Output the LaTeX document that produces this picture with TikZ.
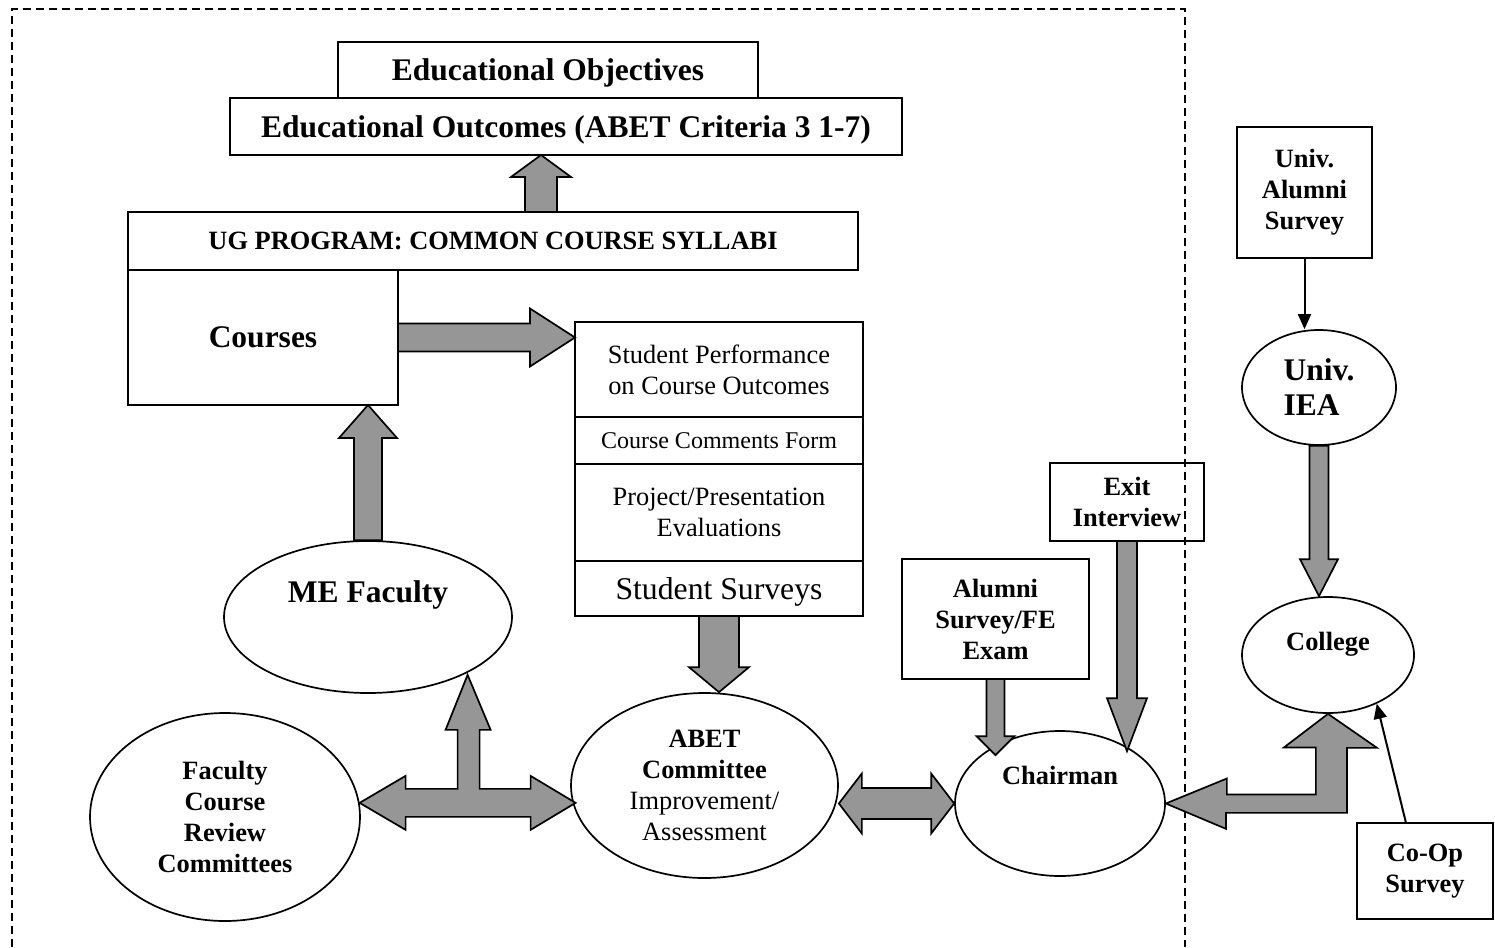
\documentclass[tikz,border=0pt]{standalone}
\usepackage{fontspec}
\setmainfont{Liberation Serif}
\usetikzlibrary{arrows.meta,positioning,calc,shapes.geometric}
\definecolor{ArrowGray}{RGB}{150,150,150}
\newcommand{\headsize}{\fontsize{31.5pt}{37pt}\selectfont}
\newcommand{\bodysize}{\fontsize{26.4pt}{31pt}\selectfont}
% block arrow: tail, tip, shaft half width, head half width, head length
\newcommand{\fatarrow}[5]{%
  \coordinate (fa-t) at (#1);
  \coordinate (fa-h) at (#2);
  \coordinate (fa-b) at ($(fa-h)!#5pt!(fa-t)$);
  \draw[fatarrow] ($(fa-t)!#3pt!90:(fa-h)$) -- ($(fa-b)!#3pt!90:(fa-h)$)
    -- ($(fa-b)!#4pt!90:(fa-h)$) -- (fa-h) -- ($(fa-b)!#4pt!-90:(fa-h)$)
    -- ($(fa-b)!#3pt!-90:(fa-h)$) -- ($(fa-t)!#3pt!-90:(fa-h)$) -- cycle;}
% block arrow with a head at both ends
\newcommand{\fatboth}[5]{%
  \coordinate (fa-a) at (#1);
  \coordinate (fa-z) at (#2);
  \coordinate (fa-p) at ($(fa-a)!#5pt!(fa-z)$);
  \coordinate (fa-q) at ($(fa-z)!#5pt!(fa-a)$);
  \draw[fatarrow] (fa-a) -- ($(fa-p)!#4pt!90:(fa-z)$) -- ($(fa-p)!#3pt!90:(fa-z)$)
    -- ($(fa-q)!#3pt!-90:(fa-a)$) -- ($(fa-q)!#4pt!-90:(fa-a)$) -- (fa-z)
    -- ($(fa-q)!#4pt!90:(fa-a)$) -- ($(fa-q)!#3pt!90:(fa-a)$)
    -- ($(fa-p)!#3pt!-90:(fa-z)$) -- ($(fa-p)!#4pt!-90:(fa-z)$) -- cycle;}
\tikzset{
  plainbox/.style={draw, line width=1.7pt, inner sep=0pt, outer sep=0pt,
    align=center, font=\bodysize\bfseries},
  listbox/.style={draw, line width=1.7pt, inner sep=0pt, outer sep=0pt,
    align=center, font=\bodysize, minimum width=288pt},
  oval/.style={ellipse, draw, line width=1.7pt, inner sep=0pt, align=center,
    font=\bodysize\bfseries},
  fatarrow/.style={draw, line width=1.7pt, fill=ArrowGray, line join=miter},
  thinarrow/.style={line width=2pt, -{Triangle[length=15pt,width=13pt]}},
  regionline/.style={line width=1.5pt, dash pattern=on 8pt off 5pt}
}
\begin{document}
\begin{tikzpicture}[x=1pt,y=-1pt]
  \useasboundingbox (0,0) rectangle (1495,947);
  % department boundary
  \draw[regionline] (12,947) -- (12,9) -- (1185,9) -- (1185,947);

  % objectives and program
  \node[plainbox, font=\headsize\bfseries, minimum width=672pt, minimum height=57pt, text depth=0pt] (outcomes) at (566,126.5) {Educational Outcomes (ABET Criteria 3 1-7)};
  \node[plainbox, font=\headsize\bfseries, minimum width=420pt, minimum height=56pt, text depth=0pt] (objectives) at (548,70) {Educational Objectives};
  \node[plainbox, minimum width=730pt, minimum height=58pt] (ug) at (493,241) {UG PROGRAM: COMMON COURSE SYLLABI};
  \node[plainbox, font=\headsize\bfseries, minimum width=270pt, minimum height=135pt, anchor=north west] (courses) at (ug.south west) {Courses};

  % assessment tools
  \node[listbox, minimum height=95pt] (perf) at (719,369.5) {Student Performance\\on Course Outcomes};
  \node[listbox, minimum height=47pt, font=\fontsize{24pt}{28pt}\selectfont, below=0pt of perf] (comments) {Course Comments Form};
  \node[listbox, minimum height=97pt, below=0pt of comments] (project) {Project/Presentation\\Evaluations};
  \node[listbox, minimum height=55pt, font=\fontsize{31.7pt}{37pt}\selectfont, text depth=0pt, below=0pt of project] (surveys) {Student Surveys};

  % faculty, committees, chairman
  \node[oval, font=\headsize\bfseries, minimum width=288pt, minimum height=152pt, text height=22pt, text depth=51pt] (mefac) at (368,617) {ME Faculty};
  \node[oval, minimum width=270pt, minimum height=208pt] (fcr) at (225,817) {Faculty\\Course\\Review\\Committees};
  \node[oval, font=\bodysize, minimum width=267pt, minimum height=185pt] (abet) at (704.5,785.5) {\textbf{ABET}\\\textbf{Committee}\\Improvement/\\Assessment};
  \node[oval, minimum width=210pt, minimum height=145pt, text height=18pt, text depth=56pt] (chair) at (1060,803.5) {Chairman};
  \node[plainbox, minimum width=187pt, minimum height=120pt] (alumni) at (995.5,619) {Alumni\\Survey/FE\\Exam};
  \node[plainbox, minimum width=154pt, minimum height=78pt] (exit) at (1127,502) {Exit\\Interview};

  % university side
  \node[plainbox, minimum width=135pt, minimum height=131pt] (uas) at (1304.5,192.5) {Univ.\\Alumni\\Survey};
  \node[oval, font=\fontsize{31.5pt}{35pt}\selectfont\bfseries, align=left, minimum width=154pt, minimum height=115pt] (iea) at (1319,387.5) {Univ.\\IEA};
  \node[oval, minimum width=172pt, minimum height=116pt, text height=18pt, text depth=28pt] (college) at (1328,655) {College};
  \node[plainbox, minimum width=136pt, minimum height=96pt] (coop) at (1425,871) {Co-Op\\Survey};

  % block arrows
  \fatarrow{$(ug.north)+(48,0)$}{$(outcomes.south)+(-25,0)$}{16}{30}{22}
  \fatarrow{courses.east}{perf.west |- courses.east}{14}{29}{45}
  \fatarrow{mefac.north}{courses.south -| mefac.north}{14}{29}{33}
  \fatarrow{surveys.south}{surveys.south |- abet.north}{20}{30}{25}
  \fatboth{abet.east |- chair.west}{chair.west}{15.5}{30}{23}
  \fatarrow{alumni.south}{$(alumni.south |- chair.north)+(0,25)$}{9}{19}{19}
  \fatarrow{exit.south}{$(exit.south |- chair.north)+(0,21)$}{10}{20}{53}
  \fatarrow{iea.south}{iea.south |- college.north}{9.5}{19}{37}

  % T arrow: review committees, ME faculty, ABET committee
  \draw[fatarrow] (fcr.6) -- ++(46,-27) -- ++(0,13) -- ++(52,0) -- ++(0,-59)
    -- ++(-12,0) -- ++(22,-55) -- ++(23,55) -- ++(-11,0) -- ++(0,59) -- ++(51,0)
    -- ++(0,-13) -- ++(45,27) -- ++(-45,27) -- ++(0,-13) -- ++(-125,0) -- ++(0,13) -- cycle;
  % L arrow: chairman and college
  \draw[fatarrow] (chair.east) -- ++(61,-25) -- ++(0,16) -- ++(89,0) -- ++(0,-47)
    -- ++(-32,0) -- (college.south) -- ++(49,34) -- ++(-30,0) -- ++(0,65)
    -- ++(-121,0) -- ++(0,16) -- cycle;

  \draw[thinarrow] (uas.south) -- (uas.south |- iea.north);
  \draw[thinarrow] ($(coop.north)+(-19,0)$) -- (college.-45);
\end{tikzpicture}
\end{document}
